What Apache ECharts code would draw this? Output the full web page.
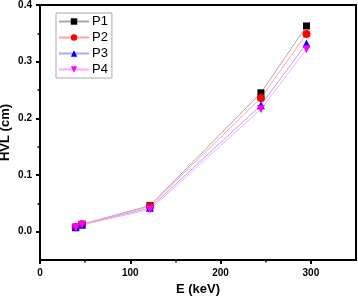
<!DOCTYPE html>
<html>
<head>
<meta charset="utf-8">
<script src="https://cdn.jsdelivr.net/npm/echarts@6/dist/echarts.min.js"></script>
<style>html,body{margin:0;padding:0;background:#fff}#c{width:358px;height:303px}</style>
</head>
<body>
<div id="c"></div>
<script>
var energies = [39.5, 46.5, 121.8, 244.7, 295.2];
var P1 = [0.008, 0.013, 0.046, 0.245, 0.363];
var P2 = [0.008, 0.013, 0.045, 0.236, 0.349];
var P3 = [0.008, 0.012, 0.042, 0.223, 0.332];
var P4 = [0.007, 0.012, 0.039, 0.216, 0.322];
var xTicks = [0, 100, 200, 300];
var xMinor = [50, 150, 250];
var yTicks = [0, 0.1, 0.2, 0.3, 0.4];
var yMinor = [0.05, 0.15, 0.25, 0.35];

function pairs(ys){ return energies.map(function(e,i){ return [e, ys[i]]; }); }
var FONT = 'Liberation Sans, Arial, sans-serif';
var chart = echarts.init(document.getElementById('c'));
function mk(name, data, sym, rot, size, color, lineColor){
  return {name:name, type:'line', data:pairs(data), symbol:sym, symbolRotate:rot, symbolSize:size,
    itemStyle:{color:color}, lineStyle:{color:lineColor, width:1}, showSymbol:true, animation:false};
}
chart.setOption({
  animation:false,
  grid:{left:40, top:5, right:2, bottom:43, outerBoundsMode:'none', containLabel:false,
    show:true, borderColor:'#000', borderWidth:2, backgroundColor:'transparent'},
  legend:{orient:'vertical', left:56, top:13, itemWidth:30, itemHeight:8, itemGap:3, padding:[2,4,2,2],
    borderColor:'#aaa', borderWidth:1,
    textStyle:{fontFamily:FONT, fontSize:13, lineHeight:13, color:'#000', padding:[0,0,0,-2]},
    data:['P1','P2','P3','P4']},
  xAxis:[{type:'value', min:0, max:350, name:'E (keV)', nameLocation:'middle', nameGap:23, nameMoveOverlap:false,
    nameTextStyle:{fontFamily:FONT, fontSize:13, fontWeight:'bold', color:'#000'},
    axisLine:{show:true, onZero:false, lineStyle:{color:'#000', width:2}},
    axisTick:{show:true, inside:false, length:4, lineStyle:{color:'#000', width:2}, customValues:xTicks},
    axisLabel:{fontFamily:FONT, fontSize:10, fontWeight:'bold', color:'#000', margin:8, customValues:xTicks},
    splitLine:{show:false}},
   {type:'value', min:0, max:350, position:'bottom', show:true,
    axisLine:{show:false, onZero:false}, axisLabel:{show:false},
    axisTick:{show:true, inside:false, length:2.5, lineStyle:{color:'#000', width:1.5}, customValues:xMinor},
    splitLine:{show:false}}],
  yAxis:[{type:'value', min:-0.05, max:0.4, name:'HVL (cm)', nameLocation:'middle', nameGap:28, nameMoveOverlap:false,
    nameTextStyle:{fontFamily:FONT, fontSize:13, fontWeight:'bold', color:'#000'},
    axisLine:{show:true, onZero:false, lineStyle:{color:'#000', width:2}},
    axisTick:{show:true, inside:false, length:4, lineStyle:{color:'#000', width:2}, customValues:yTicks},
    axisLabel:{fontFamily:FONT, fontSize:10, fontWeight:'bold', color:'#000', margin:8, customValues:yTicks,
      formatter:function(v){ return v.toFixed(1); }},
    splitLine:{show:false}},
   {type:'value', min:-0.05, max:0.4, position:'left', show:true,
    axisLine:{show:false, onZero:false}, axisLabel:{show:false},
    axisTick:{show:true, inside:false, length:2.5, lineStyle:{color:'#000', width:1.5}, customValues:yMinor},
    splitLine:{show:false}}],
  series:[
    mk('P1', P1, 'rect', 0, 7, '#000', '#a8a8a8'),
    mk('P2', P2, 'circle', 0, 8, '#ff0000', '#ffa0a0'),
    mk('P3', P3, 'triangle', 0, 8, '#0000ff', '#a8a8ff'),
    mk('P4', P4, 'triangle', 180, 8, '#ff00ff', '#ffa8ff')
  ]
});
</script>
</body>
</html>
